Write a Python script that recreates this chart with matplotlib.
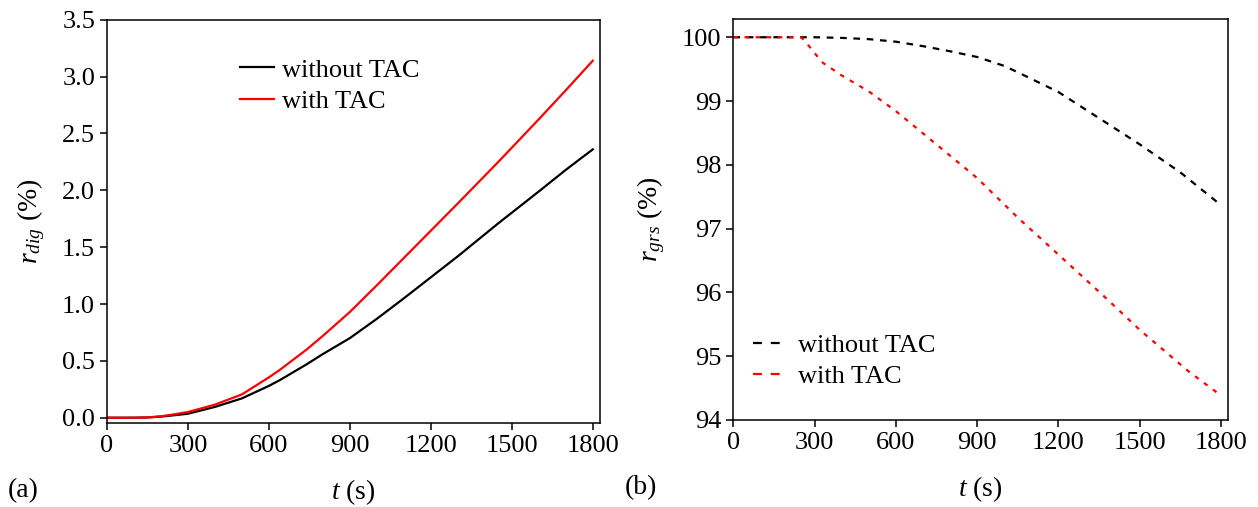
import matplotlib
matplotlib.use('Agg')
import matplotlib.pyplot as plt
from matplotlib.lines import Line2D

plt.rcParams['font.family'] = ['Liberation Serif', 'DejaVu Serif']
plt.rcParams['mathtext.fontset'] = 'custom'
plt.rcParams['mathtext.rm'] = 'Liberation Serif'
plt.rcParams['mathtext.it'] = 'Liberation Serif:italic'

# (a) digestion ratio
t_dig = [0, 100, 150, 200, 250, 300, 400, 500, 600, 640, 740, 800, 900,
         1000, 1050, 1100, 1200, 1300, 1450, 1600, 1700, 1800]
dig_without = [0, 0, 0.002, 0.01, 0.022, 0.035, 0.095, 0.17, 0.28, 0.33, 0.47, 0.56, 0.70,
               0.87, 0.96, 1.05, 1.235, 1.42, 1.71, 1.99, 2.18, 2.36]
dig_with = [0, 0, 0.003, 0.012, 0.03, 0.05, 0.115, 0.205, 0.355, 0.42, 0.60, 0.72, 0.93,
            1.165, 1.285, 1.405, 1.645, 1.885, 2.25, 2.625, 2.88, 3.14]

# (b) grass ratio
t_grs_without = [0, 100, 200, 300, 400, 500, 600, 700, 800, 900, 1000, 1050,
                 1200, 1350, 1500, 1650, 1790]
grs_without = [100, 100, 100, 100, 99.99, 99.97, 99.93, 99.86, 99.78, 99.69, 99.55, 99.45,
               99.14, 98.73, 98.32, 97.88, 97.40]
t_grs_with = [0, 100, 200, 250, 270, 300, 330, 400, 500, 600, 735, 900,
              1050, 1200, 1375, 1500, 1680, 1800]
grs_with = [100, 100, 100, 100, 99.91, 99.75, 99.60, 99.40, 99.15, 98.84, 98.37, 97.79,
            97.17, 96.59, 95.91, 95.41, 94.76, 94.38]

fig = plt.figure(figsize=(12.58, 5.07), dpi=100)
ax1 = fig.add_axes([0.085, 0.166, 0.392, 0.795])
ax2 = fig.add_axes([0.583, 0.172, 0.393, 0.791])

fs = 19

ax1.plot(t_dig, dig_without, color='black', lw=1.6, label='without TAC')
ax1.plot(t_dig, dig_with, color='red', lw=1.6, label='with TAC')
ax1.set_xlim(0, 1827)
ax1.set_ylim(-0.045, 3.5)
ax1.set_xticks([0, 300, 600, 900, 1200, 1500, 1800])
ax1.set_yticks([0, 0.5, 1.0, 1.5, 2.0, 2.5, 3.0, 3.5])
ax1.set_yticklabels(['0.0', '0.5', '1.0', '1.5', '2.0', '2.5', '3.0', '3.5'])
ax1.set_xlabel('$t$ (s)', fontsize=fs + 1, labelpad=15)
ax1.set_ylabel('$r_{dig}$ (%)', fontsize=fs + 1, labelpad=11)
ax1.legend(loc='upper left', bbox_to_anchor=(0.27, 0.905), frameon=False,
           fontsize=19, handlelength=1.3, handletextpad=0.3, labelspacing=0.3,
           borderpad=0, borderaxespad=0)

ax2.plot(t_grs_without, grs_without, color='black', lw=1.6, ls=(0, (3, 3)))
ax2.plot(t_grs_with, grs_with, color='red', lw=1.6, ls=(0, (2, 3)))
ax2.set_xlim(0, 1825)
ax2.set_ylim(94, 100.29)
ax2.set_xticks([0, 300, 600, 900, 1200, 1500, 1800])
ax2.set_yticks([94, 95, 96, 97, 98, 99, 100])
ax2.set_xlabel('$t$ (s)', fontsize=fs + 1, labelpad=15)
ax2.set_ylabel('$r_{grs}$ (%)', fontsize=fs + 1, labelpad=11)
handles = [Line2D([], [], color='black', lw=1.6, ls=(0, (4, 4))),
           Line2D([], [], color='red', lw=1.6, ls=(0, (4, 4)))]
ax2.legend(handles, ['without TAC', 'with TAC'], loc='upper left',
           bbox_to_anchor=(0.04, 0.215), frameon=False,
           fontsize=19, handlelength=1.3, handletextpad=0.4, labelspacing=0.3,
           borderpad=0, borderaxespad=0)

for ax in (ax1, ax2):
    for s in ax.spines.values():
        s.set_linewidth(1.1)
    ax.tick_params(direction='out', length=5, width=1.1, labelsize=fs)

fig.text(0.006, 0.02, '(a)', fontsize=fs + 1)
fig.text(0.497, 0.025, '(b)', fontsize=fs + 1)

fig.savefig('out.png', dpi=100)
